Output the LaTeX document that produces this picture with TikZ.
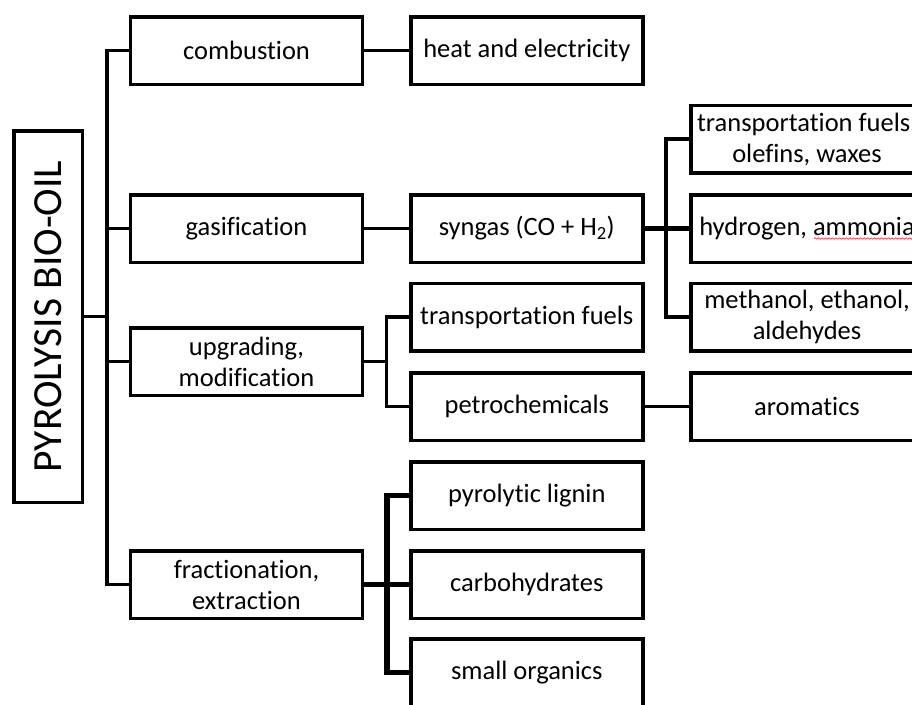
\documentclass[tikz,border=0pt]{standalone}
\usepackage{fontspec}
\setmainfont{Carlito}[Ligatures=NoCommon]
\usetikzlibrary{decorations.pathmorphing}
\begin{document}
\begin{tikzpicture}[x=1pt,y=-1pt,
  box/.style={draw, line width=3.5pt, inner sep=0pt, minimum width=232pt, minimum height=67.5pt, align=center, font=\fontsize{26.5}{31}\selectfont},
  rootbox/.style={draw, line width=3.5pt, inner sep=0pt, rotate=90, minimum width=371.5pt, minimum height=68.5pt, font=\fontsize{41.5}{48}\selectfont},
  link/.style={line width=3.5pt, line join=miter},
  midlink/.style={line width=4pt, line join=miter},
  boldlink/.style={line width=5.5pt, line join=miter},
  squiggle/.style={draw=red!75!white, line width=0.7pt, decorate, decoration={snake, amplitude=0.7pt, segment length=3.5pt}}]
\useasboundingbox (0,0) rectangle (912,704);
\clip (0,0) rectangle (912,704);

% root
\node[rootbox] (root) at (48,316.5) {PYROLYSIS BIO-OIL};

% level 1
\node[box] (comb) at (246.5,50.5) {combustion};
\node[box] (gas) at (246.5,228.5) {gasification};
\node[box] (upg) at (246.5,361.5) {upgrading,\\modification};
\node[box] (frac) at (246.5,584.5) {fractionation,\\extraction};

% level 2
\node[box] (heat) at (526.8,50.5) {heat and electricity};
\node[box] (syn) at (526.8,228.5) {syngas (CO + H\textsubscript{2})};
\node[box] (tf) at (526.8,317) {transportation fuels};
\node[box] (petro) at (526.8,406.5) {petrochemicals};
\node[box] (lig) at (526.8,495.5) {pyrolytic lignin};
\node[box] (carb) at (526.8,584.5) {carbohydrates};
\node[box] (small) at (526.8,672.5) {small organics};

% level 3
\node[box] (tfo) at (807,139) {transportation fuels,\\olefins, waxes};
\node[box] (hyd) at (807,228.5) {hydrogen, ammonia};
\node[box] (meth) at (807,317) {methanol, ethanol,\\aldehydes};
\node[box] (arom) at (807,406.5) {aromatics};

% branch points
\coordinate (b0) at (107,316.5);
\coordinate (b1) at (666,228.5);
\coordinate (b2) at (386.5,361.5);
\coordinate (b3) at (387,584.5);

% trunk
\draw[link] (root.south) -- (b0);
\draw[link] (comb.west) -| (b0) |- (frac.west);
\draw[link] (gas.west) -| (b0);
\draw[link] (upg.west) -| (b0);

% level 1 -> level 2
\draw[link] (comb.east) -- (heat.west);
\draw[link] (gas.east) -- (syn.west);
\draw[link] (upg.east) -- (b2);
\draw[link] (tf.west) -| (b2) |- (petro.west);
\draw[boldlink] (frac.east) -- (b3) -- (carb.west);
\draw[boldlink] (lig.west) -| (b3) |- (small.west);

% level 2 -> level 3
\draw[boldlink] (syn.east) -- (b1) -- (hyd.west);
\draw[midlink] (tfo.west) -| (b1) |- (meth.west);
\draw[link] (petro.east) -- (arom.west);

% spell-check underline
\path[squiggle] (814,238.5) -- (916,238.5);
\end{tikzpicture}
\end{document}
